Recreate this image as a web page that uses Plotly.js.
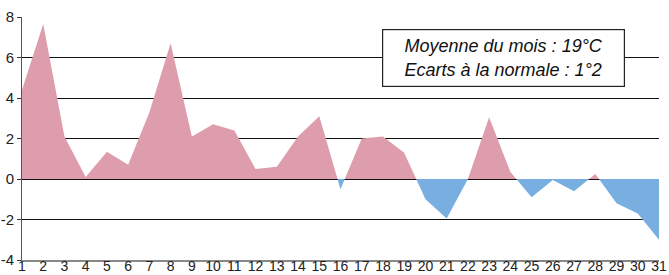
<!DOCTYPE html>
<html>
<head>
<meta charset="utf-8">
<script src="https://cdn.plot.ly/plotly-3.0.1.min.js"></script>
<style>html,body{margin:0;padding:0;background:#fff;}#chart{width:669px;height:275px;}</style>
</head>
<body>
<div id="chart"></div>
<script>
// Days of the month
const days = [1,2,3,4,5,6,7,8,9,10,11,12,13,14,15,16,17,18,19,20,21,22,23,24,25,26,27,28,29,30,31];
// Daily deviation from the normal temperature (°C)
const ecarts = [4.4,7.65,2.1,0.1,1.35,0.7,3.3,6.7,2.1,2.7,2.4,0.5,0.6,2.1,3.1,-0.5,2.0,2.1,1.3,-1.0,-1.95,0.0,3.05,0.35,-0.9,-0.05,-0.6,0.25,-1.2,-1.7,-3.0];
const yTicks = [-4,-2,0,2,4,6,8];
const boxText = "<i>Moyenne du mois : 19°C</i><br><i>Ecarts à la normale : 1°2</i>";

// Split the series into a positive part and a negative part, inserting zero crossings
const px = [], py = [], nx = [], ny = [];
for (let i = 0; i < days.length; i++) {
  const v = ecarts[i];
  px.push(days[i]); py.push(Math.max(v, 0));
  nx.push(days[i]); ny.push(Math.min(v, 0));
  if (i < days.length - 1) {
    const w = ecarts[i + 1];
    if ((v > 0 && w < 0) || (v < 0 && w > 0)) {
      const xc = days[i] + (days[i + 1] - days[i]) * (v / (v - w));
      px.push(xc); py.push(0);
      nx.push(xc); ny.push(0);
    }
  }
}

const traces = [
  {x: px, y: py, type: 'scatter', mode: 'lines', fill: 'tozeroy',
   fillcolor: '#DE9DAD', line: {width: 0, color: '#DE9DAD'}, hoverinfo: 'skip'},
  {x: nx, y: ny, type: 'scatter', mode: 'lines', fill: 'tozeroy',
   fillcolor: '#78AEE0', line: {width: 0, color: '#78AEE0'}, hoverinfo: 'skip'}
];

const layout = {
  width: 669, height: 275,
  margin: {l: 22, r: 10, t: 17, b: 15, pad: 0},
  paper_bgcolor: '#fff', plot_bgcolor: '#fff',
  showlegend: false,
  font: {family: 'Liberation Sans, Arial, sans-serif', size: 14, color: '#222'},
  xaxis: {
    range: [1, 31], tickmode: 'array', tickvals: days, ticktext: days.map(String),
    showgrid: false, zeroline: false, showline: true, linecolor: '#888', linewidth: 2,
    ticks: '', ticklen: 0, ticklabelstandoff: -8, tickfont: {size: 14, color: '#222'}, fixedrange: true
  },
  yaxis: {
    range: [-4, 8], tickmode: 'array', tickvals: yTicks, ticktext: yTicks.map(String),
    showgrid: true, gridcolor: '#111', gridwidth: 1, zeroline: false,
    showline: true, linecolor: '#555', linewidth: 1,
    ticks: 'outside', ticklen: 4, tickcolor: '#333', tickfont: {size: 15, color: '#222'},
    fixedrange: true
  },
  annotations: [{
    xref: 'paper', yref: 'paper', x: 0.756, y: 0.833, xanchor: 'center', yanchor: 'middle',
    text: boxText, showarrow: false, align: 'center',
    font: {family: 'Liberation Sans, Arial, sans-serif', size: 18, color: '#111'},
    bgcolor: '#fff', bordercolor: '#222', borderwidth: 1.2, borderpad: 2,
    width: 237, height: 52
  }]
};

Plotly.newPlot('chart', traces, layout, {displayModeBar: false, staticPlot: true});
</script>
</body>
</html>
